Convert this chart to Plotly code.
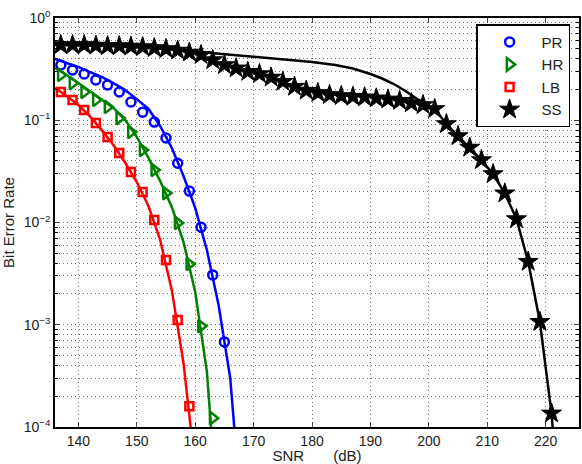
import plotly.graph_objects as go

# ---------------- data ----------------
snr_pr = [137, 139, 141, 143, 145, 147, 149, 151, 153, 155, 157, 159, 161, 163, 165]
ber_pr = [0.347, 0.310, 0.283, 0.248, 0.221, 0.189, 0.151, 0.120, 0.096, 0.067,
          0.038, 0.0203, 0.0090, 0.00307, 0.00068]
snr_pr_line = [136, 138, 140, 142, 144, 146, 148, 150, 152, 154, 156, 158, 160, 162, 164, 166, 167]
ber_pr_line = [0.397, 0.363, 0.332, 0.296, 0.265, 0.231, 0.198, 0.161, 0.129, 0.0879,
               0.0536, 0.0285, 0.0139, 0.00538, 0.00156, 0.00030, 0.00006]

snr_hr = [137, 139, 141, 143, 145, 147, 149, 151, 153, 155, 157, 159, 161, 163]
ber_hr = [0.277, 0.231, 0.189, 0.158, 0.135, 0.105, 0.0768, 0.0512, 0.0326, 0.0194,
          0.0099, 0.00393, 0.00097, 0.000122]
snr_hr_line = [136, 138, 140, 142, 144, 146, 148, 150, 152, 154, 156, 158, 160, 162, 163]
ber_hr_line = [0.324, 0.277, 0.231, 0.193, 0.161, 0.132, 0.101, 0.0686, 0.0428, 0.0255,
               0.0142, 0.00644, 0.00209, 0.00035, 0.00006]

snr_lb = [137, 139, 141, 143, 145, 147, 149, 151, 153, 155, 157, 159]
ber_lb = [0.189, 0.158, 0.126, 0.094, 0.0686, 0.0478, 0.0312, 0.0199, 0.0106, 0.0043,
          0.00111, 0.00016]
snr_lb_line = [136, 138, 140, 142, 144, 146, 148, 150, 152, 154, 156, 158, 160]
ber_lb_line = [0.207, 0.173, 0.141, 0.109, 0.080, 0.0573, 0.0386, 0.0249, 0.0145, 0.00675,
               0.00218, 0.00042, 0.00004]

snr_ss = list(range(137, 222, 2))
ber_ss = [0.544, 0.544, 0.544, 0.538, 0.532, 0.532, 0.526, 0.520, 0.509, 0.498,
          0.481, 0.460, 0.435, 0.388, 0.347, 0.322, 0.298, 0.283, 0.262, 0.238,
          0.213, 0.195, 0.185, 0.177, 0.173, 0.170, 0.168, 0.164, 0.160, 0.155,
          0.147, 0.141, 0.129, 0.0919, 0.0701, 0.0541, 0.0408, 0.0298, 0.0193, 0.0108,
          0.00414, 0.00107, 0.000136]
snr_ss_line = [136, 145, 155, 160, 165, 170, 175, 180, 184, 187, 190, 192, 194, 196, 198,
               200, 201, 203, 205, 207, 209, 211, 213, 215, 217, 219, 221, 222]
ber_ss_line = [0.544, 0.532, 0.498, 0.470, 0.445, 0.420, 0.393, 0.372, 0.347, 0.321,
               0.283, 0.256, 0.226, 0.193, 0.161, 0.138, 0.129, 0.0919, 0.0701, 0.0541,
               0.0408, 0.0298, 0.0193, 0.0108, 0.00414, 0.00107, 0.000136, 0.000025]

series_names = ["PR", "HR", "LB", "SS"]
x_ticks = [140, 150, 160, 170, 180, 190, 200, 210, 220]
y_ticks = [1e-4, 1e-3, 1e-2, 1e-1, 1]
y_tick_text = ["10<sup>\u22124</sup>", "10<sup>\u22123</sup>", "10<sup>\u22122</sup>",
               "10<sup>\u22121</sup>", "10<sup>0</sup>"]
y_minor = [m * 10 ** e for e in range(-4, 0) for m in range(2, 10)]

# ---------------- figure ----------------
fig = go.Figure()

blue, green, red, black = "#0000ff", "#008000", "#ff0000", "#000000"

lines = [(snr_pr_line, ber_pr_line, blue), (snr_hr_line, ber_hr_line, green),
         (snr_lb_line, ber_lb_line, red), (snr_ss_line, ber_ss_line, black)]
for xs, ys, c in lines:
    fig.add_trace(go.Scatter(x=xs, y=ys, mode="lines", line=dict(color=c, width=2.5),
                             showlegend=False, hoverinfo="skip"))

marks = [
    (snr_pr, ber_pr, blue, "circle-open", 9),
    (snr_hr, ber_hr, green, "triangle-right-open", 11),
    (snr_lb, ber_lb, red, "square-open", 8),
    (snr_ss, ber_ss, black, "star", 15),
]
for name, (xs, ys, c, sym, sz) in zip(series_names, marks):
    if sym == "star":
        mk = dict(symbol=sym, size=sz, color=c, line=dict(color=c, width=1))
    else:
        mk = dict(symbol=sym, size=sz, color=c, line=dict(color=c, width=2.5))
    fig.add_trace(go.Scatter(x=xs, y=ys, mode="markers", name=name, marker=mk))

grid = "rgba(0,0,0,0.55)"
font = "Liberation Sans, Arial, Helvetica, sans-serif"

fig.update_layout(
    width=582, height=464,
    margin=dict(l=55, r=3, t=18, b=37),
    paper_bgcolor="white", plot_bgcolor="white",
    font=dict(family=font, size=14, color="#222"),
    legend=dict(x=0.983, xanchor="right", y=0.985, yanchor="top",
                bordercolor="black", borderwidth=1.5, bgcolor="white",
                font=dict(size=15, color="#222"), itemwidth=54),
)
fig.update_xaxes(
    range=[136, 225.7], tickvals=x_ticks, ticks="inside", ticklen=5,
    showline=True, linecolor="black", linewidth=1.5, mirror="ticks",
    showgrid=True, gridcolor=grid, griddash="1px,3px", gridwidth=1,
    zeroline=False, automargin=False,
    title=dict(text="SNR" + "\u00a0" * 7 + "(dB)", standoff=6,
               font=dict(size=15)),
)
fig.update_yaxes(
    type="log", range=[-4, 0], tickvals=y_ticks, ticktext=y_tick_text,
    ticks="inside", ticklen=5,
    showline=True, linecolor="black", linewidth=1.5, mirror="ticks",
    showgrid=True, gridcolor=grid, griddash="1px,3px", gridwidth=1,
    minor=dict(tickvals=y_minor, ticks="inside", ticklen=3, tickcolor="black",
               showgrid=True, gridcolor=grid, griddash="1px,3px", gridwidth=1),
    zeroline=False, automargin=False,
    title=dict(text="Bit Error Rate", standoff=8, font=dict(size=15)),
)

fig.write_html("out.html")
